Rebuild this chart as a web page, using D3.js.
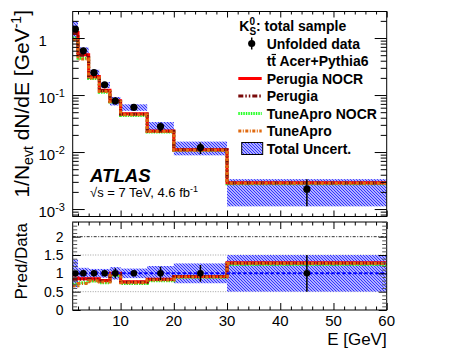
<!DOCTYPE html>
<html>
<head>
<meta charset="utf-8">
<script src="https://cdn.jsdelivr.net/npm/d3@7"></script>
<style>
  body { margin: 0; background: #fff; }
  svg { font-family: 'Liberation Sans', Arial, Helvetica, sans-serif; }
</style>
</head>
<body>
<svg id="chart" width="456" height="354"></svg>
<script>
// K0s energy spectrum, bins in GeV
var binLo = [1, 2, 4, 6, 8, 10, 15, 20, 30]
var binHi = [2, 4, 6, 8, 10, 15, 20, 30, 60]
var dataVal = [1.43, 0.596, 0.248, 0.151, 0.079, 0.0608, 0.028, 0.0120, 0.00223]
var dataErr = [0.04, 0.03, 0.03, 0.04, 0.14, 0.05, 0.18, 0.23, 0.5] // relative
var totalUnc = [0.38, 0.15, 0.12, 0.12, 0.17, 0.13, 0.2, 0.27, 0.5] // relative

// predictions (ttbar Acer+Pythia6)
var perugiaNocr = [1.244, 0.507, 0.211, 0.121, 0.079, 0.0468, 0.0235, 0.0110, 0.00288]
var perugia = [1.20, 0.501, 0.208, 0.119, 0.0774, 0.0462, 0.0232, 0.0110, 0.00285]
var tuneAproNocr = [1.00, 0.441, 0.196, 0.112, 0.0751, 0.0438, 0.0224, 0.0107, 0.00277]
var tuneApro = [0.944, 0.429, 0.198, 0.115, 0.0766, 0.0450, 0.0230, 0.0108, 0.00283]

var xTicks = [10, 20, 30, 40, 50, 60]
var ratioTicks = [0, 0.5, 1, 1.5, 2]

var series = [
  { name: 'Perugia NOCR', vals: perugiaNocr, color: '#ff0000', dash: null },
  { name: 'Perugia', vals: perugia, color: '#7a0a0a', dash: '5,2,1.5,2,1.5,2' },
  { name: 'TuneApro NOCR', vals: tuneAproNocr, color: '#22ff22', dash: '1.5,1' },
  { name: 'TuneApro', vals: tuneApro, color: '#e06a10', dash: '3,1.5,1,1.5' }
]
var drawOrder = [2, 0, 1, 3]

var svg = d3.select('#chart')
var left = 72.7, right = 386.7
var top0 = 11.5, top1 = 216.5
var rat0 = 222, rat1 = 310

var x = d3.scaleLinear().domain([1, 60]).range([left, right])
var y = d3.scaleLog().domain([7.4e-4, 2.92]).range([top1, top0])
var yr = d3.scaleLinear().domain([0, 2.4]).range([rat1, rat0])

var defs = svg.append('defs')
var pat = defs.append('pattern').attr('id', 'hatch')
  .attr('patternUnits', 'userSpaceOnUse').attr('width', 3).attr('height', 3)
pat.append('rect').attr('width', 3).attr('height', 3).attr('fill', '#e6e6ff')
pat.append('path').attr('d', 'M-1,-1 L4,4 M-1,2 L1,4 M2,-1 L4,1')
  .attr('stroke', '#2a2aff').attr('stroke-width', 1.1)

defs.append('clipPath').attr('id', 'clipTop').append('rect')
  .attr('x', left).attr('y', top0).attr('width', right - left).attr('height', top1 - top0)
defs.append('clipPath').attr('id', 'clipRat').append('rect')
  .attr('x', left).attr('y', rat0).attr('width', right - left).attr('height', rat1 - rat0)

function steps (vals) {
  var pts = []
  vals.forEach(function (v, i) { pts.push([binLo[i], v], [binHi[i], v]) })
  return pts
}
function ratio (vals) { return vals.map(function (v, i) { return v / dataVal[i] }) }

// ---------- top panel ----------
var gTop = svg.append('g').attr('clip-path', 'url(#clipTop)')
var lineTop = d3.line().x(function (d) { return x(d[0]) }).y(function (d) { return y(d[1]) })

gTop.selectAll('rect.band').data(dataVal).enter().append('rect')
  .attr('class', 'band')
  .attr('x', function (d, i) { return x(binLo[i]) })
  .attr('width', function (d, i) { return x(binHi[i]) - x(binLo[i]) })
  .attr('y', function (d, i) { return y(d * (1 + totalUnc[i])) })
  .attr('height', function (d, i) { return y(d * (1 - totalUnc[i])) - y(d * (1 + totalUnc[i])) })
  .attr('fill', 'url(#hatch)')

drawOrder.forEach(function (k) {
  var s = series[k]
  gTop.append('path').datum(steps(s.vals)).attr('d', lineTop)
    .attr('fill', 'none').attr('stroke', s.color).attr('stroke-width', 3)
    .attr('stroke-dasharray', s.dash)
})

gTop.selectAll('line.err').data(dataVal).enter().append('line')
  .attr('x1', function (d, i) { return x((binLo[i] + binHi[i]) / 2) })
  .attr('x2', function (d, i) { return x((binLo[i] + binHi[i]) / 2) })
  .attr('y1', function (d, i) { return y(d * (1 + dataErr[i])) })
  .attr('y2', function (d, i) { return y(d * (1 - dataErr[i])) })
  .attr('stroke', '#000').attr('stroke-width', 1.5)
gTop.selectAll('circle.pt').data(dataVal).enter().append('circle')
  .attr('cx', function (d, i) { return x((binLo[i] + binHi[i]) / 2) })
  .attr('cy', function (d) { return y(d) })
  .attr('r', 3.6).attr('fill', '#000')

// ---------- ratio panel ----------
var gRat = svg.append('g').attr('clip-path', 'url(#clipRat)')
var lineRat = d3.line().x(function (d) { return x(d[0]) }).y(function (d) { return yr(d[1]) })

gRat.append('line').attr('x1', left).attr('x2', right).attr('y1', yr(2)).attr('y2', yr(2))
  .attr('stroke', '#000').attr('stroke-width', 0.8).attr('stroke-dasharray', '3,1.5,1,1.5')
;[0.5, 1.5].forEach(function (v) {
  gRat.append('line').attr('x1', left).attr('x2', right).attr('y1', yr(v)).attr('y2', yr(v))
    .attr('stroke', '#888').attr('stroke-width', 0.8).attr('stroke-dasharray', '1,1.5')
})

gRat.selectAll('rect.band').data(totalUnc).enter().append('rect')
  .attr('x', function (d, i) { return x(binLo[i]) })
  .attr('width', function (d, i) { return x(binHi[i]) - x(binLo[i]) })
  .attr('y', function (d) { return yr(1 + d) })
  .attr('height', function (d) { return yr(1 - d) - yr(1 + d) })
  .attr('fill', 'url(#hatch)')

drawOrder.forEach(function (k) {
  var s = series[k]
  gRat.append('path').datum(steps(ratio(s.vals))).attr('d', lineRat)
    .attr('fill', 'none').attr('stroke', s.color).attr('stroke-width', 3)
    .attr('stroke-dasharray', s.dash)
})

gRat.append('line').attr('x1', left).attr('x2', right).attr('y1', yr(1)).attr('y2', yr(1))
  .attr('stroke', '#0000ff').attr('stroke-width', 2).attr('stroke-dasharray', '3.5,2')

gRat.selectAll('line.err').data(dataErr).enter().append('line')
  .attr('x1', function (d, i) { return x((binLo[i] + binHi[i]) / 2) })
  .attr('x2', function (d, i) { return x((binLo[i] + binHi[i]) / 2) })
  .attr('y1', function (d) { return yr(1 + d) })
  .attr('y2', function (d) { return yr(1 - d) })
  .attr('stroke', '#000').attr('stroke-width', 1.5)
gRat.selectAll('circle.pt').data(dataVal).enter().append('circle')
  .attr('cx', function (d, i) { return x((binLo[i] + binHi[i]) / 2) })
  .attr('cy', yr(1))
  .attr('r', 3.3).attr('fill', '#000')

// ---------- frames and ticks ----------
function frame (y0, y1) {
  svg.append('rect').attr('x', left).attr('y', y0).attr('width', right - left).attr('height', y1 - y0)
    .attr('fill', 'none').attr('stroke', '#000').attr('stroke-width', 1)
}
frame(top0, top1)
frame(rat0, rat1)

function tickAxis (axisFn, scale, values, size, tx, ty, color) {
  var g = svg.append('g').attr('transform', 'translate(' + tx + ',' + ty + ')')
    .call(axisFn(scale).tickValues(values).tickSize(size).tickFormat(''))
  g.select('.domain').remove()
  g.selectAll('line').attr('stroke', color || '#000')
  return g
}

var xMinor = d3.range(2, 61, 2).filter(function (v) { return v % 10 !== 0 })
// top panel x ticks
tickAxis(d3.axisBottom, x, xTicks, -6, 0, top1)
tickAxis(d3.axisBottom, x, xMinor, -3, 0, top1)
tickAxis(d3.axisTop, x, xTicks, -6, 0, top0)
tickAxis(d3.axisTop, x, xMinor, -3, 0, top0)
// ratio panel x ticks
tickAxis(d3.axisBottom, x, xTicks, -7, 0, rat1)
tickAxis(d3.axisBottom, x, xMinor, -3.5, 0, rat1)
tickAxis(d3.axisTop, x, xTicks, -7, 0, rat0)
tickAxis(d3.axisTop, x, xMinor, -3.5, 0, rat0)

// log y ticks
var decades = [1e-3, 1e-2, 1e-1, 1]
var logMinor = []
;[1e-4, 1e-3, 1e-2, 1e-1, 1].forEach(function (d) {
  for (var k = 2; k <= 9; k++) {
    var v = k * d
    if (v >= y.domain()[0] && v <= y.domain()[1]) logMinor.push(v)
  }
})
tickAxis(d3.axisLeft, y, decades, -12, left, 0)
tickAxis(d3.axisLeft, y, logMinor, -6, left, 0)
tickAxis(d3.axisRight, y, decades, -12, right, 0)
tickAxis(d3.axisRight, y, logMinor, -6, right, 0)

// ratio y ticks
var ratMinor = d3.range(0, 2.41, 0.1).filter(function (v) { return Math.abs(v * 2 - Math.round(v * 2)) > 1e-6 })
tickAxis(d3.axisLeft, yr, ratioTicks, -8, left, 0)
tickAxis(d3.axisLeft, yr, ratMinor, -4.5, left, 0, '#555')
tickAxis(d3.axisRight, yr, ratioTicks, -8, right, 0)
tickAxis(d3.axisRight, yr, ratMinor, -4.5, right, 0, '#555')

// ---------- labels ----------
svg.append('g').selectAll('text').data(xTicks).enter().append('text')
  .attr('x', function (d) { return x(d) }).attr('y', 326)
  .attr('text-anchor', 'middle').attr('font-size', 15).text(function (d) { return d })

svg.append('g').selectAll('text').data(ratioTicks).enter().append('text')
  .attr('x', 63.5).attr('y', function (d) { return yr(d) + 5 })
  .attr('text-anchor', 'end').attr('font-size', 14).text(function (d) { return d })

var logLab = svg.append('g').selectAll('text').data(decades).enter().append('text')
  .attr('x', 38.5).attr('y', function (d) { return y(d) + 7.8 }).attr('font-size', 15)
logLab.each(function (d) {
  var t = d3.select(this)
  var e = Math.round(Math.log10(d))
  if (e === 0) { t.text('1'); return }
  t.append('tspan').text('10')
  t.append('tspan').attr('dy', -6.3).attr('font-size', 11).text(e)
})

svg.append('text').attr('x', right).attr('y', 345).attr('text-anchor', 'end')
  .attr('font-size', 17).text('E [GeV]')

var yt = svg.append('text').attr('transform', 'translate(28.5,10) rotate(-90)')
  .attr('text-anchor', 'end').attr('font-size', 21)
yt.append('tspan').text('1/N')
yt.append('tspan').attr('font-size', 14).attr('dy', 4).text('evt')
yt.append('tspan').attr('dy', -4).text(' dN/dE [GeV')
yt.append('tspan').attr('font-size', 14).attr('dy', -8).text('-1')
yt.append('tspan').attr('dy', 8).text(']')

svg.append('text').attr('transform', 'translate(27,223) rotate(-90)')
  .attr('text-anchor', 'end').attr('font-size', 17).text('Pred/Data')

svg.append('text').attr('x', 90).attr('y', 181.5).attr('font-size', 18.6)
  .attr('font-weight', 'bold').attr('font-style', 'italic').text('ATLAS')
var en = svg.append('text').attr('x', 90).attr('y', 197).attr('font-size', 13)
en.append('tspan').text('\u221As = 7 TeV, 4.6 fb')
en.append('tspan').attr('font-size', 9).attr('dy', -5).text('-1')

// ---------- legend ----------
var leg = svg.append('g').attr('font-size', 14).attr('font-weight', 'bold')
var rowY = function (i) { return 26 + 17.5 * i }
var textX = 266.7

var k0 = leg.append('text').attr('x', 239.3).attr('y', rowY(0) + 5)
k0.append('tspan').text('K')
k0.append('tspan').attr('font-size', 10).attr('dy', -6).text('0')
k0.append('tspan').attr('font-size', 10).attr('dx', -5.6).attr('dy', 10).text('S')
k0.append('tspan').attr('dy', -4).text(': total sample')

leg.append('line').attr('x1', 251.7).attr('x2', 251.7).attr('y1', rowY(1) - 6).attr('y2', rowY(1) + 6)
  .attr('stroke', '#000').attr('stroke-width', 1.5)
leg.append('circle').attr('cx', 251.7).attr('cy', rowY(1)).attr('r', 3.6).attr('fill', '#000')
leg.append('text').attr('x', textX).attr('y', rowY(1) + 5).text('Unfolded data')

leg.append('text').attr('x', textX).attr('y', rowY(2) + 5).text('tt Acer+Pythia6')
leg.append('line').attr('x1', textX + 4.9).attr('x2', textX + 9.3)
  .attr('y1', rowY(2) - 6.5).attr('y2', rowY(2) - 6.5).attr('stroke', '#000').attr('stroke-width', 1.2)

series.forEach(function (s, i) {
  var yy = rowY(3 + i)
  leg.append('line').attr('x1', 238.3).attr('x2', 261.7).attr('y1', yy).attr('y2', yy)
    .attr('stroke', s.color).attr('stroke-width', 3).attr('stroke-dasharray', s.dash)
  leg.append('text').attr('x', textX).attr('y', yy + 5).text(s.name)
})

leg.append('rect').attr('x', 241.7).attr('y', rowY(7) - 6).attr('width', 21).attr('height', 12)
  .attr('fill', 'url(#hatch)').attr('stroke', '#000').attr('stroke-width', 1)
leg.append('text').attr('x', textX).attr('y', rowY(7) + 5).text('Total Uncert.')
</script>
</body>
</html>
